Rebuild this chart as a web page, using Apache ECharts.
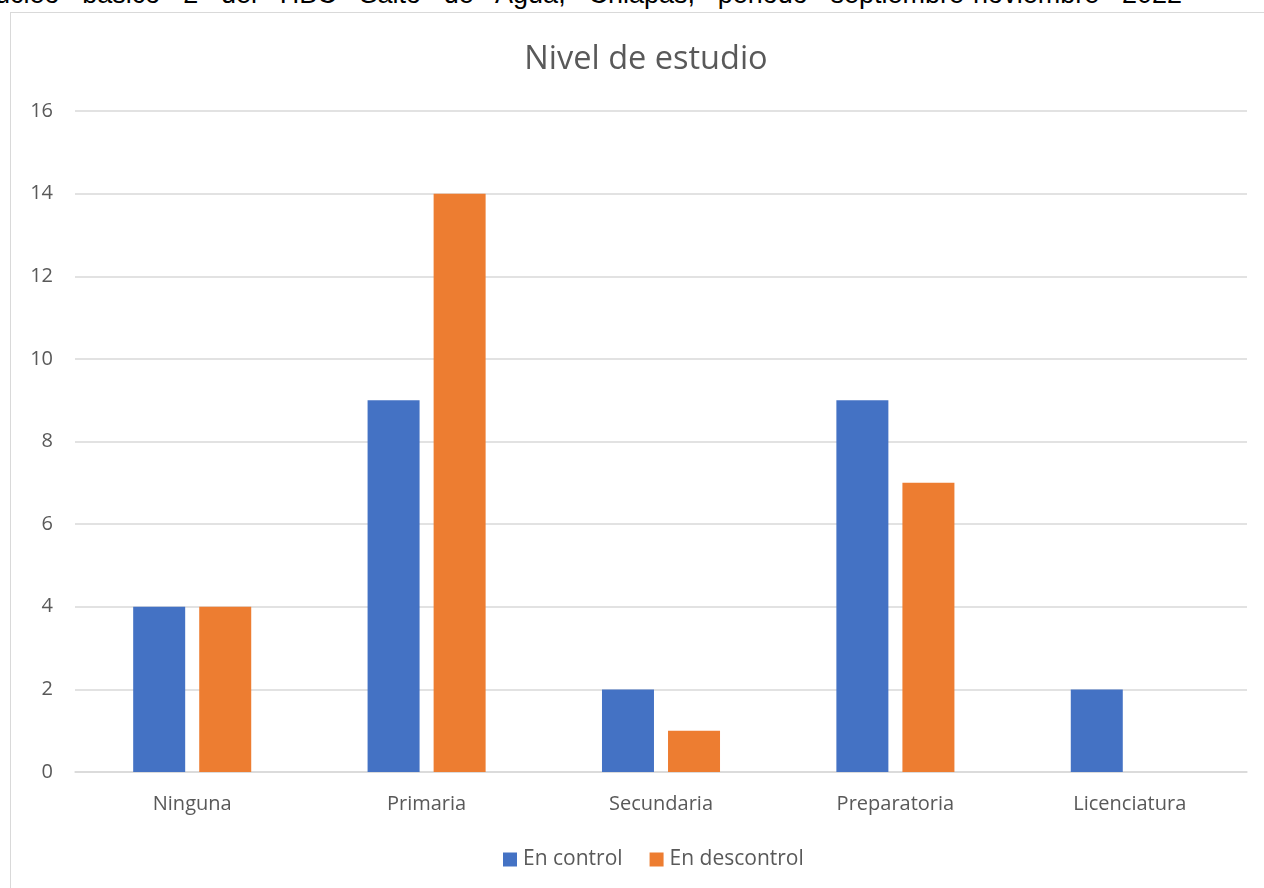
<!DOCTYPE html>
<html>
<head>
<meta charset="utf-8">
<title>Nivel de estudio</title>
<script src="https://cdn.jsdelivr.net/npm/echarts@6/dist/echarts.min.js"></script>
<style>
  html, body { margin: 0; padding: 0; background: #ffffff; overflow: hidden; }
  #caption {
    position: absolute; left: -20px; top: -19px; width: 1202px;
    font-family: "Liberation Sans", Arial, sans-serif; font-size: 27px; color: #000;
    text-align: justify; text-align-last: justify; white-space: nowrap; line-height: 27px;
  }
  #frame {
    position: absolute; left: 10px; top: 12px; width: 1270px; height: 900px;
    border: 1px solid #d9d9d9; box-sizing: border-box;
  }
  #chart { position: absolute; left: 0; top: 0; width: 1264px; height: 888px; }
</style>
</head>
<body>
<div id="caption">núcleo básico 2 del HBC Salto de Agua, Chiapas, periodo septiembre-noviembre 2022</div>
<div id="frame"></div>
<div id="chart"></div>
<script>
// Nivel de estudio de los pacientes, por grupo de control
const categories = ['Ninguna', 'Primaria', 'Secundaria', 'Preparatoria', 'Licenciatura'];
const enControl = [4, 9, 2, 9, 2];
const enDescontrol = [4, 14, 1, 7, 0];
const seriesNames = ['En control', 'En descontrol'];

const FONT = '"Open Sans", Lato, sans-serif';
const chart = echarts.init(document.getElementById('chart'), null, { renderer: 'canvas' });

chart.setOption({
  backgroundColor: 'transparent',
  animation: false,
  color: ['#4472C4', '#ED7D31'],
  title: {
    text: 'Nivel de estudio',
    left: 641, top: 38, textAlign: 'center',
    textStyle: { fontFamily: FONT, fontSize: 32.5, fontWeight: 'normal', color: '#595959' }
  },
  legend: {
    data: seriesNames,
    bottom: 13, left: 498,
    itemWidth: 14, itemHeight: 14, itemGap: 27,
    icon: 'rect',
    textStyle: { fontFamily: FONT, fontSize: 21, color: '#595959', padding: [0, 0, 0, 1] }
  },
  grid: { left: 75, right: 17, top: 111, bottom: 116, containLabel: false },
  xAxis: {
    type: 'category',
    data: categories,
    axisTick: { show: false },
    axisLine: { lineStyle: { color: '#d9d9d9', width: 1.5 } },
    axisLabel: { fontFamily: FONT, fontSize: 20, color: '#595959', margin: 22 }
  },
  yAxis: {
    type: 'value',
    min: 0, max: 16, interval: 2,
    axisLine: { show: false },
    axisTick: { show: false },
    splitLine: { lineStyle: { color: '#d9d9d9', width: 1.5 } },
    axisLabel: { fontFamily: FONT, fontSize: 20, color: '#595959', margin: 22 }
  },
  series: [
    { name: seriesNames[0], type: 'bar', data: enControl, barWidth: 52, barGap: '27%' },
    { name: seriesNames[1], type: 'bar', data: enDescontrol, barWidth: 52, barGap: '27%' }
  ]
});
</script>
</body>
</html>
